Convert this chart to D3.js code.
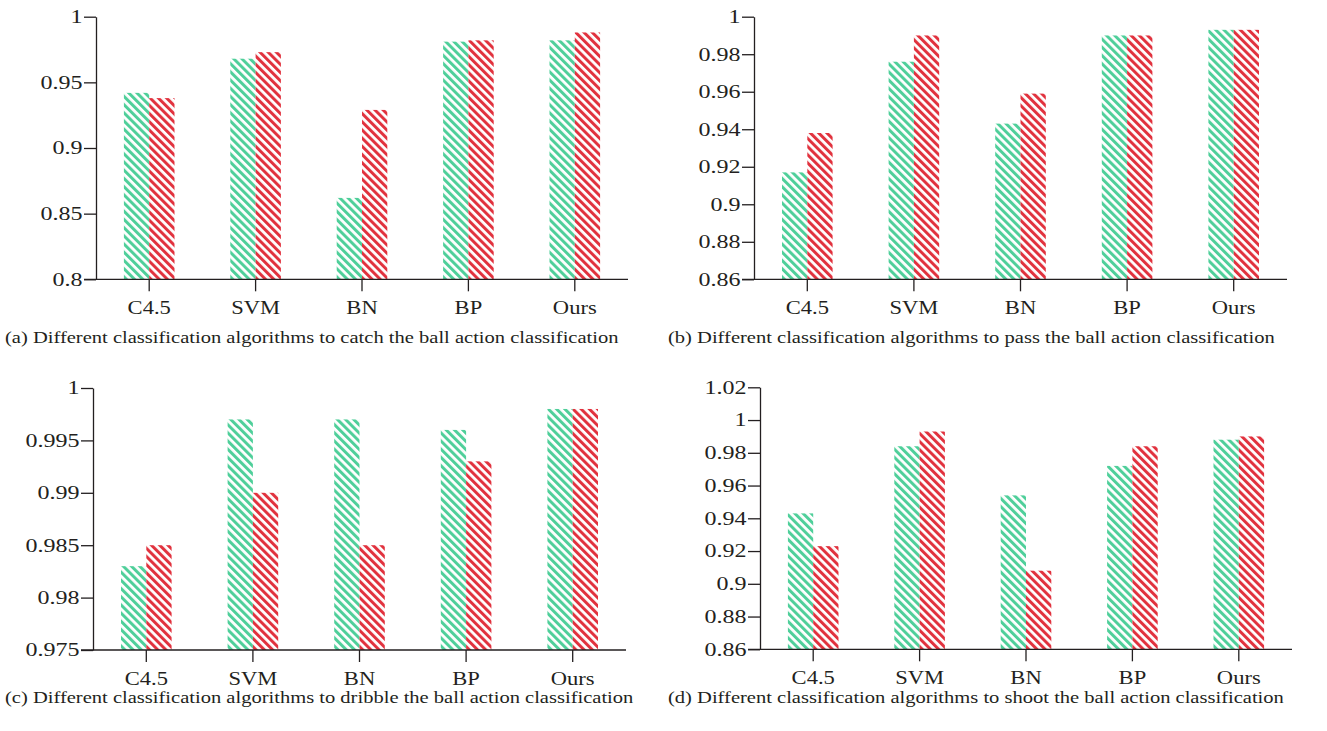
<!DOCTYPE html>
<html>
<head>
<meta charset="utf-8">
<script src="https://cdn.jsdelivr.net/npm/d3@7"></script>
<style>
  html, body { margin: 0; padding: 0; background: #fff; }
  svg { display: block; }
  text { font-family: "Liberation Serif", "Times New Roman", serif; fill: #231f20; }
</style>
</head>
<body>
<svg id="chart" width="1327" height="731"></svg>
<script>
// Algorithms compared in every panel
const categories = ["C4.5", "SVM", "BN", "BP", "Ours"];

// Two result series per action (green = first series, red = second series)
const catchGreen   = [0.942, 0.968, 0.862, 0.981, 0.982];
const catchRed     = [0.938, 0.973, 0.929, 0.982, 0.988];
const passGreen    = [0.917, 0.976, 0.943, 0.990, 0.993];
const passRed      = [0.938, 0.990, 0.959, 0.990, 0.993];
const dribbleGreen = [0.983, 0.997, 0.997, 0.996, 0.998];
const dribbleRed   = [0.985, 0.990, 0.985, 0.993, 0.998];
const shootGreen   = [0.943, 0.984, 0.954, 0.972, 0.988];
const shootRed     = [0.923, 0.993, 0.908, 0.984, 0.990];

// Y tick values per panel
const catchTicks   = [0.8, 0.85, 0.9, 0.95, 1];
const passTicks    = [0.86, 0.88, 0.9, 0.92, 0.94, 0.96, 0.98, 1];
const dribbleTicks = [0.975, 0.98, 0.985, 0.99, 0.995, 1];
const shootTicks   = [0.86, 0.88, 0.9, 0.92, 0.94, 0.96, 0.98, 1, 1.02];

const captions = [
  "(a) Different classification algorithms to catch the ball action classification",
  "(b) Different classification algorithms to pass the ball action classification",
  "(c) Different classification algorithms to dribble the ball action classification",
  "(d) Different classification algorithms to shoot the ball action classification"
];

// The typeface is set wide, so all text gets a horizontal stretch
const STRETCH = 1.3;

const svg = d3.select("#chart");
const defs = svg.append("defs");

// Diagonal hatch fills
function hatch(id, color) {
  const p = defs.append("pattern")
    .attr("id", id)
    .attr("patternUnits", "userSpaceOnUse")
    .attr("width", 5.8).attr("height", 5.8)
    .attr("patternTransform", "rotate(-45)");
  p.append("rect").attr("width", 5.8).attr("height", 5.8).attr("fill", "#fff");
  p.append("rect").attr("x", 0).attr("y", 0)
    .attr("width", 3.0).attr("height", 5.8)
    .attr("fill", color);
}
hatch("hatchGreen", "#4fcf9a");
hatch("hatchRed", "#e1323e");

const panels = [
  { left: 96,  right: 628,  top: 16.7, bottom: 279.3, ticks: catchTicks,   green: catchGreen,   red: catchRed,   cap: captions[0], capX: 5,   capY: 343 },
  { left: 754, right: 1287, top: 16.7, bottom: 279.3, ticks: passTicks,    green: passGreen,    red: passRed,    cap: captions[1], capX: 668, capY: 343 },
  { left: 93,  right: 626,  top: 388,  bottom: 650,   ticks: dribbleTicks, green: dribbleGreen, red: dribbleRed, cap: captions[2], capX: 5,   capY: 703 },
  { left: 760, right: 1292, top: 387.3,bottom: 649.3, ticks: shootTicks,   green: shootGreen,   red: shootRed,   cap: captions[3], capX: 668, capY: 703 }
];

panels.forEach(pn => {
  const g = svg.append("g");
  const y = d3.scaleLinear()
    .domain([pn.ticks[0], pn.ticks[pn.ticks.length - 1]])
    .range([pn.bottom, pn.top]);
  const x = d3.scaleBand().domain(categories).range([pn.left, pn.right]).padding(0);
  const sub = d3.scaleBand().domain(["green", "red"]).range([0, 50.6]);
  const bw = sub.bandwidth();

  const rows = categories.map((c, i) => ({ c, green: pn.green[i], red: pn.red[i] }));

  const grp = g.selectAll("g.cat").data(rows).join("g")
    .attr("transform", d => `translate(${x(d.c) + x.bandwidth() / 2 - 25.3},0)`);

  grp.append("rect")
    .attr("x", sub("green")).attr("width", bw)
    .attr("y", d => y(d.green)).attr("height", d => y.range()[0] - y(d.green))
    .attr("fill", "url(#hatchGreen)");
  grp.append("rect")
    .attr("x", sub("red")).attr("width", bw)
    .attr("y", d => y(d.red)).attr("height", d => y.range()[0] - y(d.red))
    .attr("fill", "url(#hatchRed)");

  // Y axis
  const yAxis = g.append("g")
    .attr("transform", `translate(${pn.left},0)`)
    .call(d3.axisLeft(y).tickValues(pn.ticks).tickFormat(d => String(+d.toFixed(3))).tickSize(12).tickSizeOuter(0));
  yAxis.select(".domain").attr("stroke", "#231f20").attr("stroke-width", 1.3);
  yAxis.selectAll(".tick line").attr("stroke", "#231f20").attr("stroke-width", 1.3);
  yAxis.selectAll("text")
    .style("font-size", "18.5px").attr("fill", "#231f20")
    .attr("x", -13.5 / STRETCH)
    .attr("transform", `scale(${STRETCH},1)`);

  // X axis
  const xAxis = g.append("g")
    .attr("transform", `translate(0,${pn.bottom})`)
    .call(d3.axisBottom(x).tickSize(12).tickPadding(10).tickSizeOuter(0));
  xAxis.select(".domain").attr("d", `M${pn.left - 12},0H${pn.right}`)
    .attr("stroke", "#231f20").attr("stroke-width", 1.3);
  xAxis.selectAll(".tick line").attr("stroke", "#231f20").attr("stroke-width", 1.3);
  xAxis.selectAll("text")
    .style("font-size", "18.5px").attr("fill", "#231f20")
    .attr("transform", `scale(1.22,1)`);

  svg.append("text")
    .attr("transform", `translate(${pn.capX},${pn.capY}) scale(${STRETCH},1)`)
    .style("font-size", "15.8px")
    .text(pn.cap);
});
</script>
</body>
</html>
